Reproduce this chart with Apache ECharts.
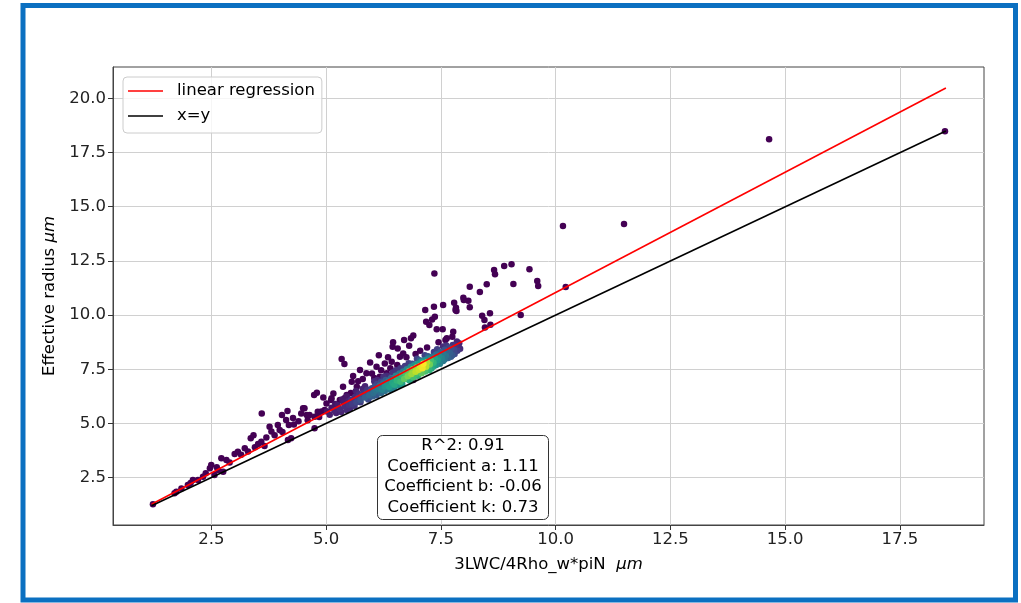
<!DOCTYPE html>
<html>
<head>
<meta charset="utf-8">
<script src="https://cdn.jsdelivr.net/npm/echarts@6/dist/echarts.min.js"></script>
<style>
html,body{margin:0;padding:0;background:#fff;}
#chart{width:1021px;height:603px;}
</style>
</head>
<body>
<div id="chart"></div>
<script>
// ---- data ----
const xTicks = [2.5, 5.0, 7.5, 10.0, 12.5, 15.0, 17.5];
const yTicks = [2.5, 5.0, 7.5, 10.0, 12.5, 15.0, 17.5, 20.0];

// sparse points (lowest density)
const sparsePoints = [
 [1.23,1.27],[1.70,1.77],[1.74,1.85],[1.85,2.00],[1.99,2.16],[2.05,2.25],[2.10,2.39],[2.21,2.39],[2.32,2.54],[2.38,2.70],
 [2.47,2.93],[2.50,3.08],[2.57,2.62],[2.62,2.98],[2.65,2.85],[2.76,2.77],[2.72,3.39],[2.83,3.31],[2.90,3.20],[3.01,3.59],
 [3.08,3.69],[3.15,3.55],[3.23,3.85],[3.30,3.70],[3.36,4.31],[3.42,4.45],[3.45,3.90],[3.52,4.05],[3.59,4.15],[3.66,3.96],
 [3.60,5.46],[3.70,4.35],[3.77,4.85],[3.81,4.62],[3.88,4.45],[3.95,4.92],[3.99,4.69],[4.04,5.39],[4.05,4.60],[4.16,5.57],
 [4.13,5.16],[4.19,4.93],[4.24,4.31],[4.17,4.23],[4.28,5.25],[4.30,4.95],[4.40,5.10],[4.46,5.46],[4.53,5.70],[4.50,5.70],
 [4.58,5.39],[4.60,5.15],[4.64,5.39],[4.75,5.31],[4.75,4.77],[4.80,6.42],[4.74,6.31],[4.82,5.54],[4.85,5.30],[4.90,5.55],
 [4.94,6.20],[4.97,5.62],[5.01,5.92],[5.11,6.08],[5.12,6.16],[5.16,6.38],[5.30,6.08],[5.37,6.69],[5.40,6.16],[5.45,6.31],
 [5.54,6.40],[5.34,7.97],[5.40,7.74],[5.56,6.92],[5.59,7.19],[5.67,6.69],[5.70,6.95],[5.74,7.46],[5.80,7.05],[5.88,7.31],
 [5.96,7.81],[6.00,7.30],[6.05,7.10],[6.10,7.62],[6.15,8.14],[6.17,7.15],[6.20,7.45],[6.28,7.77],[6.32,7.31],[6.35,8.05],
 [6.40,7.55],[6.43,7.85],[6.45,8.54],[6.46,8.74],[6.55,7.70],[6.56,8.46],[6.61,8.08],[6.68,8.23],[6.70,8.85],[6.75,8.05],
 [6.81,8.58],[6.85,8.93],[6.90,9.06],[6.90,7.00],[6.95,8.20],[7.05,8.35],[7.20,8.50],[7.45,8.75],[7.60,8.85],[7.75,9.00],
 [7.16,10.23],[7.18,9.69],[7.25,9.54],[7.31,9.80],[7.35,10.38],[7.36,11.92],[7.37,9.92],[7.41,9.35],[7.54,9.34],[7.55,10.46],
 [7.63,8.93],[7.77,9.23],[7.79,10.57],[7.82,10.23],[7.83,10.34],[7.84,10.19],[7.99,10.80],[8.00,10.69],[8.10,10.66],[8.13,10.36],
 [8.13,11.31],[8.35,11.06],[8.40,9.97],[8.45,9.77],[8.46,9.43],[8.50,11.42],[8.57,10.08],[8.58,9.55],[8.66,12.08],[8.68,11.88],
 [8.88,12.26],[9.04,12.34],[9.08,11.43],[9.24,10.00],[9.43,12.11],[9.60,11.57],[9.62,11.34],[10.16,14.11],[10.22,11.29],[11.49,14.20],
 [14.65,18.12],[18.48,18.49]
];

// dense core points: [x, y, relative density]
const corePoints = [
 [5.02,5.55,0.06],[5.08,5.40,0.08],[5.12,5.72,0.06],[5.18,5.60,0.10],[5.22,5.48,0.09],[5.25,5.85,0.07],[5.30,5.66,0.12],
 [5.33,5.52,0.10],[5.38,5.95,0.08],[5.41,5.78,0.13],[5.45,5.62,0.12],[5.48,6.02,0.09],[5.50,5.85,0.15],[5.45,6.25,0.06],
 [5.55,6.10,0.14],[5.57,5.90,0.18],[5.60,6.05,0.16],[5.63,6.22,0.12],[5.66,5.98,0.22],[5.70,6.18,0.20],[5.72,6.35,0.13],
 [5.75,6.08,0.26],[5.78,6.28,0.22],[5.82,6.42,0.15],[5.85,6.20,0.30],[5.88,6.38,0.25],[5.90,6.55,0.16],[5.94,6.30,0.33],
 [5.97,6.48,0.27],[5.65,6.50,0.08],[5.85,6.72,0.10],[5.75,5.98,0.18],[5.95,6.22,0.25],
 [6.00,6.62,0.22],[6.03,6.40,0.36],[6.06,6.70,0.24],[6.08,6.52,0.38],[6.11,6.82,0.20],[6.14,6.60,0.42],[6.17,6.75,0.34],
 [6.20,6.92,0.22],[6.22,6.55,0.45],[6.25,6.85,0.36],[6.28,6.70,0.50],[6.30,7.00,0.28],[6.33,6.80,0.52],[6.36,6.95,0.42],
 [6.38,6.68,0.55],[6.41,7.08,0.32],[6.44,6.88,0.58],[6.47,7.02,0.50],[6.49,6.78,0.60],[6.05,6.95,0.12],[6.25,7.15,0.14],
 [6.45,7.35,0.15],[6.15,6.45,0.30],[6.35,6.62,0.40],
 [6.52,7.20,0.45],[6.54,6.98,0.65],[6.57,7.12,0.60],[6.60,7.30,0.40],[6.62,6.92,0.68],[6.65,7.22,0.66],[6.68,7.40,0.42],
 [6.70,7.05,0.75],[6.73,7.32,0.70],[6.76,7.50,0.45],[6.78,7.18,0.80],[6.81,7.42,0.74],[6.84,7.60,0.48],[6.86,7.28,0.85],
 [6.89,7.50,0.82],[6.92,7.68,0.50],[6.95,7.38,0.90],[6.97,7.58,0.86],[6.62,7.55,0.16],[6.80,7.78,0.18],[6.55,6.85,0.50],
 [6.75,7.05,0.62],[6.95,7.28,0.70],
 [7.00,7.75,0.55],[7.02,7.48,0.92],[7.05,7.65,0.95],[7.08,7.85,0.55],[7.10,7.55,0.98],[7.12,7.75,1.00],[7.15,7.92,0.50],
 [7.18,7.62,0.90],[7.20,7.82,0.88],[7.23,8.00,0.45],[7.26,7.72,0.78],[7.28,7.90,0.70],[7.31,8.08,0.40],[7.34,7.80,0.65],
 [7.37,8.00,0.58],[6.98,7.98,0.20],[7.15,8.15,0.20],[7.35,8.30,0.18],[7.15,7.48,0.72],[7.35,7.65,0.55],
 [7.40,8.18,0.35],[7.43,7.92,0.55],[7.46,8.10,0.48],[7.49,8.28,0.30],[7.52,8.02,0.45],[7.55,8.22,0.40],[7.58,8.40,0.25],
 [7.61,8.12,0.38],[7.64,8.32,0.32],[7.67,8.50,0.20],[7.70,8.25,0.30],[7.73,8.45,0.25],[7.76,8.62,0.15],[7.79,8.40,0.22],
 [7.82,8.60,0.15],[7.85,8.78,0.10],[7.88,8.55,0.12],[7.55,8.55,0.12],[7.55,7.88,0.40],[7.75,8.15,0.28],
 [5.20,5.90,0.05],[5.35,6.10,0.06],[5.52,5.70,0.12],[5.62,5.80,0.15],[5.68,6.40,0.10],[5.80,6.60,0.10],[5.92,6.10,0.22],
 [6.02,6.25,0.30],[6.10,6.30,0.28],[6.12,7.00,0.10],[6.20,6.40,0.35],[6.28,6.50,0.38],[6.32,7.20,0.12],[6.40,6.55,0.42],
 [6.48,6.65,0.45],[6.52,7.45,0.15],[6.58,6.75,0.50],[6.66,6.82,0.55],[6.72,7.65,0.18],[6.82,6.98,0.60],[6.88,7.75,0.25],
 [6.90,7.12,0.70],[7.00,7.20,0.65],[7.04,7.92,0.30],[7.08,7.32,0.75],[7.16,7.40,0.70],[7.22,8.10,0.28],[7.25,7.45,0.65],
 [7.30,7.55,0.60],[7.40,7.70,0.50],[7.42,8.42,0.20],[7.48,7.75,0.45],[7.58,7.95,0.38],[7.62,8.60,0.15],[7.66,8.02,0.32],
 [7.72,8.08,0.28],[7.80,8.20,0.22],[7.86,8.35,0.18],[7.90,8.70,0.10],[7.92,8.45,0.12]
];

const regressionLine = [[1.2, 1.27], [18.5, 20.48]];
const identityLine = [[1.2, 1.2], [18.5, 18.5]];

const statsLines = ['R^2: 0.91', 'Coefficient a: 1.11', 'Coefficient b: -0.06', 'Coefficient k: 0.73'];

const viridis = ['#440154','#482878','#3e4989','#31688e','#26828e','#1f9e89','#35b779','#6ece58','#b5de2b','#fde725'];

// ---- chart ----
const scatterData = sparsePoints.map(p => [p[0], p[1], 0])
  .concat(corePoints.slice().sort((a, b) => a[2] - b[2]));

const FONT = 'DejaVu Sans';
const FS = 16.5;
const chart = echarts.init(document.getElementById('chart'), null, {renderer: 'canvas'});

chart.setOption({
  backgroundColor: '#ffffff',
  animation: false,
  grid: {left: 113, top: 67, width: 871, height: 458, show: true, borderColor: '#444', borderWidth: 1, backgroundColor: 'transparent'},
  xAxis: {
    type: 'value', min: 0.36, max: 19.33,
    name: '3LWC/4Rho_w*piN  {it|μm}', nameLocation: 'middle', nameGap: 31,
    nameTextStyle: {fontFamily: FONT, fontSize: FS, color: '#000', rich: {it: {fontFamily: FONT, fontSize: FS, fontStyle: 'italic', color: '#000'}}},
    axisLine: {show: true, onZero: false, lineStyle: {color: '#444', width: 1}},
    axisTick: {show: true, length: 5, customValues: xTicks, lineStyle: {color: '#333', width: 1}},
    axisLabel: {customValues: xTicks, formatter: v => v.toFixed(1), fontFamily: FONT, fontSize: FS, color: '#222', margin: 6},
    splitLine: {show: true, lineStyle: {color: '#d0d0d0', width: 1}}
  },
  yAxis: {
    type: 'value', min: 0.31, max: 21.45,
    name: 'Effective radius {it|μm}', nameLocation: 'middle', nameGap: 42,
    nameTextStyle: {fontFamily: FONT, fontSize: FS, color: '#000', rich: {it: {fontFamily: FONT, fontSize: FS, fontStyle: 'italic', color: '#000'}}},
    axisLine: {show: true, onZero: false, lineStyle: {color: '#444', width: 1}},
    axisTick: {show: true, length: 5, customValues: yTicks, lineStyle: {color: '#333', width: 1}},
    axisLabel: {customValues: yTicks, formatter: v => v.toFixed(1), fontFamily: FONT, fontSize: FS, color: '#222', margin: 7},
    splitLine: {show: true, lineStyle: {color: '#d0d0d0', width: 1}}
  },
  visualMap: {show: false, type: 'continuous', dimension: 2, min: 0, max: 1, seriesIndex: 0, inRange: {color: viridis}},
  legend: {
    orient: 'vertical', left: 123, top: 77, padding: [4, 7, 7, 5],
    itemWidth: 35, itemHeight: 1.6, itemGap: 5, selectedMode: false,
    backgroundColor: 'rgba(255,255,255,0.8)', borderColor: '#cccccc', borderWidth: 1, borderRadius: 4,
    textStyle: {fontFamily: FONT, fontSize: FS, color: '#000', lineHeight: 20, padding: [0, 0, 0, 9]},
    data: [{name: 'linear regression', icon: 'rect'}, {name: 'x=y', icon: 'rect'}]
  },
  series: [
    {type: 'scatter', name: 'points', data: scatterData, symbolSize: 6.5, z: 2, itemStyle: {opacity: 1}},
    {type: 'line', name: 'linear regression', data: regressionLine, symbol: 'none', z: 3,
     lineStyle: {color: '#ff0000', width: 1.6}, itemStyle: {color: '#ff0000'}},
    {type: 'line', name: 'x=y', data: identityLine, symbol: 'none', z: 3,
     lineStyle: {color: '#000000', width: 1.6}, itemStyle: {color: '#000000'}}
  ],
  graphic: [
    {type: 'rect', z: 100, silent: true, shape: {x: 23, y: 5.5, width: 992.5, height: 594.5},
     style: {fill: 'none', stroke: '#0b70c1', lineWidth: 5}},
    {type: 'rect', z: 50, silent: true, shape: {x: 377.5, y: 435.5, width: 171, height: 84, r: 5},
     style: {fill: '#ffffff', stroke: '#333333', lineWidth: 1}},
    {type: 'text', z: 51, silent: true, x: 463, y: 436,
     style: {text: statsLines.join('\n'), fontFamily: FONT, fontSize: FS, lineHeight: 20.4, fill: '#000', align: 'center', verticalAlign: 'top'}}
  ]
});
</script>
</body>
</html>
